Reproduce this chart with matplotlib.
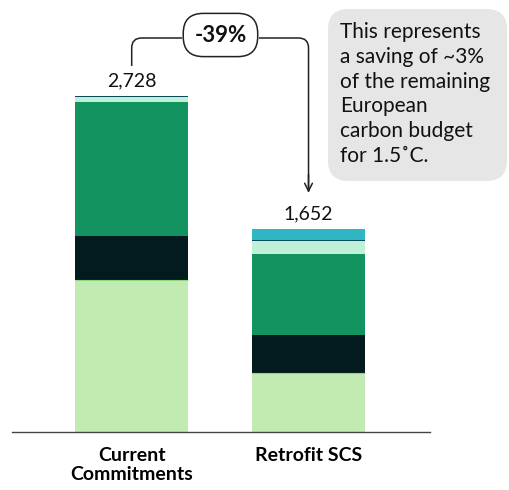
import matplotlib.pyplot as plt
from matplotlib.patches import FancyBboxPatch, PathPatch
from matplotlib.path import Path

plt.rcParams['font.family'] = ['Lato', 'DejaVu Sans']

# data
categories = ['Current\nCommitments', 'Retrofit SCS']
totals = [2728, 1652]
light_green = [1234, 475]
dark = [360, 313]
green = [1088, 658]
mint = [34, 101]
line = [12, 12]
cyan = [0, 93]
saving_label = '-39%'
note = 'This represents\na saving of ~3%\nof the remaining\nEuropean\ncarbon budget\nfor 1.5˚C.'

colors = ['#c1ebb0', '#031b1f', '#13935f', '#c0f0d8', '#0b4a5e', '#2fb5c4']
series = [light_green, dark, green, mint, line, cyan]

fig = plt.figure(figsize=(5.09, 4.90), dpi=100)
W, H = 509, 490
ax = fig.add_axes([12 / W, 58 / H, 418 / W, 432 / H])

x = [0, 1]
bottom = [0, 0]
for vals, c in zip(series, colors):
    ax.bar(x, vals, width=0.64, bottom=bottom, color=c, linewidth=0)
    bottom = [b + v for b, v in zip(bottom, vals)]
# thin darker rim on top of the light green base
ax.bar(x, [0] * 2, width=0.64, bottom=light_green, edgecolor='#8fd880', linewidth=0.8)

ax.set_xlim(-0.677, 1.687)
ax.set_ylim(0, 3507)
for s in ['top', 'right', 'left']:
    ax.spines[s].set_visible(False)
ax.spines['bottom'].set_color('#444444')
ax.spines['bottom'].set_linewidth(1)
ax.set_yticks([])
ax.set_xticks(x)
ax.set_xticklabels(categories, fontsize=14, fontweight='bold', linespacing=1.12)
ax.tick_params(axis='x', length=0, pad=11)

for xi, t in zip(x, totals):
    ax.text(xi, t + 50, f'{t:,}', ha='center', va='bottom', fontsize=14, color='#111111')

# connector with rounded corners
ypp = 3507 / 432.0
xpp = 1 / 176.8
y_h = 394 * ypp
rx, ry = 10 * xpp, 10 * ypp
pill_x = 0.502
pill_half = 38.5 * xpp
y_start = totals[0] + 30 * ypp
verts = [(0, y_start), (0, y_h - ry), (0, y_h), (rx, y_h), (pill_x - pill_half, y_h)]
codes = [Path.MOVETO, Path.LINETO, Path.CURVE3, Path.CURVE3, Path.LINETO]
ax.add_patch(PathPatch(Path(verts, codes), fill=False, lw=1.1, color='#222222', clip_on=False))
y_end = totals[1] + 37 * ypp
verts = [(pill_x + pill_half, y_h), (1 - rx, y_h), (1, y_h), (1, y_h - ry), (1, y_end)]
ax.add_patch(PathPatch(Path(verts, codes), fill=False, lw=1.1, color='#222222', clip_on=False))
ax.annotate('', xy=(1, y_end - 4 * ypp), xytext=(1, y_end + 20 * ypp),
            arrowprops=dict(arrowstyle='->', color='#222222', lw=1.1, mutation_scale=14),
            annotation_clip=False)

ax.text(pill_x, y_h + 3 * ypp, saving_label, ha='center', va='center', fontsize=16,
        fontweight='bold', color='#111111',
        bbox=dict(boxstyle='round,pad=0.5,rounding_size=0.9', fc='white', ec='#222222', lw=1.1))

# callout box
box = FancyBboxPatch((328 / W, 1 - 181 / H), 179 / W, 172 / H,
                     boxstyle='round,pad=0,rounding_size=0.04', transform=fig.transFigure,
                     fc='#e6e6e6', ec='none', mutation_aspect=W / H)
fig.patches.append(box)
fig.text(340 / W, 1 - 22 / H, note, ha='left', va='top', fontsize=15,
         color='#111111', linespacing=1.3)

fig.savefig('out.png', dpi=100)
